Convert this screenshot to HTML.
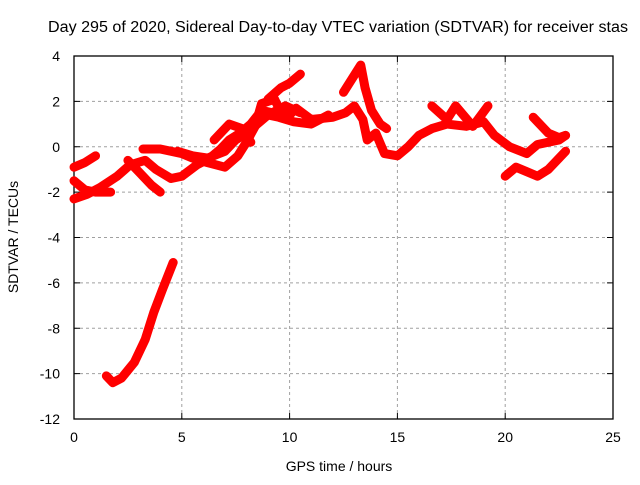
<!DOCTYPE html>
<html><head><meta charset="utf-8"><style>
body{margin:0;background:#fff;}
svg text{font-family:"Liberation Sans",sans-serif;font-size:14px;fill:#000;}
svg text.title{font-size:15.5px;}
</style></head><body>
<svg id="chart" width="640" height="480" xmlns="http://www.w3.org/2000/svg">
<rect width="640" height="480" fill="#fff"/>
<text class="title" x="338" y="32" text-anchor="middle" textLength="580" lengthAdjust="spacingAndGlyphs">Day 295 of 2020, Sidereal Day-to-day VTEC variation (SDTVAR) for receiver stas</text>
<g id="grid"></g>
<g id="axes"></g>
<g id="series"></g>
<text x="339" y="471" text-anchor="middle">GPS time / hours</text>
<text transform="translate(18,237) rotate(-90)" text-anchor="middle">SDTVAR / TECUs</text>
</svg>
<script>
const xTicks=[0,5,10,15,20,25];
const yTicks=[4,2,0,-2,-4,-6,-8,-10,-12];
const traceA_x=[1.5,1.8,2.2,2.8,3.3,3.7,4.1,4.6];
const traceA_y=[-10.1,-10.4,-10.2,-9.5,-8.5,-7.3,-6.3,-5.1];
const traceB_x=[0,0.5,1.0];
const traceB_y=[-0.9,-0.7,-0.4];
const traceC_x=[0,0.6,1.2,2.0,2.6,3.3,3.8,4.5,5.0,5.7,6.3,6.8,7.2,7.7,8.2,8.7,9.2,9.8,10.5];
const traceC_y=[-2.3,-2.1,-1.8,-1.3,-0.8,-0.6,-1.0,-1.4,-1.3,-0.8,-0.5,-0.1,0.3,0.6,1.0,1.6,1.5,1.8,1.5];
const traceD_x=[0,0.5,1.0,1.7];
const traceD_y=[-1.5,-1.9,-2.0,-2.0];
const traceD2_x=[2.5,3.0,3.6,4.0];
const traceD2_y=[-0.6,-1.1,-1.7,-2.0];
const traceE_x=[3.2,4.0,5.0,5.5,6.2,7.0,7.6,8.0,8.4,8.7,9.3,9.6,10.0,10.3,11.0,12.0,12.6,13.0,13.4,13.6,14.0,14.4,15.0,15.5,16.0,16.6,17.3,18.2,19.0,19.5,20.2,21.0,21.5,22.5,22.8];
const traceE_y=[-0.1,-0.1,-0.3,-0.5,-0.7,-0.9,-0.4,0.2,0.9,1.9,2.1,1.5,1.4,1.7,1.2,1.3,1.5,1.8,1.2,0.3,0.6,-0.3,-0.4,0.0,0.5,0.8,1.0,0.9,1.1,0.5,0.0,-0.3,0.1,0.3,0.5];
const traceK_x=[4.8,5.5,6.2,7.0,7.5,8.0,8.5,9.0,9.5,10.2,11.0,11.8];
const traceK_y=[-0.2,-0.4,-0.5,-0.2,0.3,0.6,1.0,1.4,1.3,1.1,1.0,1.4];
const traceF_x=[6.5,7.2,7.8,8.2];
const traceF_y=[0.3,1.0,0.8,0.2];
const traceF2_x=[9.0,9.6,10.0,10.5];
const traceF2_y=[2.1,2.6,2.8,3.2];
const traceG_x=[12.5,13.3,13.5,13.8,14.2,14.5];
const traceG_y=[2.4,3.6,2.6,1.6,1.0,0.8];
const traceH_x=[16.6,17.3,17.7,18.5,19.2];
const traceH_y=[1.8,1.2,1.8,0.9,1.8];
const traceI_x=[20.0,20.5,21.0,21.5,22.0,22.8];
const traceI_y=[-1.3,-0.9,-1.1,-1.3,-1.0,-0.2];
const traceJ_x=[21.3,22.0,22.5,22.8];
const traceJ_y=[1.3,0.6,0.4,0.5];
const traces=[[traceA_x,traceA_y],[traceB_x,traceB_y],[traceC_x,traceC_y],[traceD_x,traceD_y],[traceD2_x,traceD2_y],[traceE_x,traceE_y],[traceK_x,traceK_y],[traceF_x,traceF_y],[traceF2_x,traceF2_y],[traceG_x,traceG_y],[traceH_x,traceH_y],[traceI_x,traceI_y],[traceJ_x,traceJ_y]];

const L=74,R=613,T=56,B=419;
function sx(v){return L+(v-0)/(25-0)*(R-L);}
function sy(v){return B-(v+12)/(16)*(B-T);}
const NS='http://www.w3.org/2000/svg';
function mk(tag,attrs,parent){const e=document.createElementNS(NS,tag);for(const k in attrs)e.setAttribute(k,attrs[k]);parent.appendChild(e);return e;}
const grid=document.getElementById('grid'),axes=document.getElementById('axes'),ser=document.getElementById('series');
xTicks.forEach(t=>{
  const x=sx(t);
  if(t>0&&t<25){const g=mk('line',{x1:x,x2:x,y1:T,y2:B,stroke:'#a0a0a0','stroke-dasharray':'3,3'},grid);
  
  
  mk('line',{x1:x,x2:x,y1:B,y2:B-6,stroke:'#000'},axes);
  mk('line',{x1:x,x2:x,y1:T,y2:T+6,stroke:'#000'},axes);}
  const lb=mk('text',{x:x,y:B+23,'text-anchor':'middle'},axes);lb.textContent=t;
  
  
});
yTicks.forEach(t=>{
  const y=sy(t);
  if(t>-12&&t<4){const g=mk('line',{x1:L,x2:R,y1:y,y2:y,stroke:'#a0a0a0','stroke-dasharray':'3,3'},grid);
  
  
  mk('line',{x1:L,x2:L+6,y1:y,y2:y,stroke:'#000'},axes);
  mk('line',{x1:R,x2:R-6,y1:y,y2:y,stroke:'#000'},axes);}
  const lb=mk('text',{x:L-14,y:y+5,'text-anchor':'end'},axes);lb.textContent=t;
  
  
});
const fr=mk('rect',{x:L,y:T,width:R-L,height:B-T,fill:'none',stroke:'#000','stroke-width':1.3},axes);


traces.forEach(([xs,ys])=>{
  const pts=xs.map((x,i)=>sx(x)+','+sy(ys[i])).join(' ');
  const p=mk('polyline',{points:pts,fill:'none',stroke:'#ff0000','stroke-width':9,'stroke-linejoin':'round','stroke-linecap':'round'},ser);
  
  
});
</script>
</body></html>
